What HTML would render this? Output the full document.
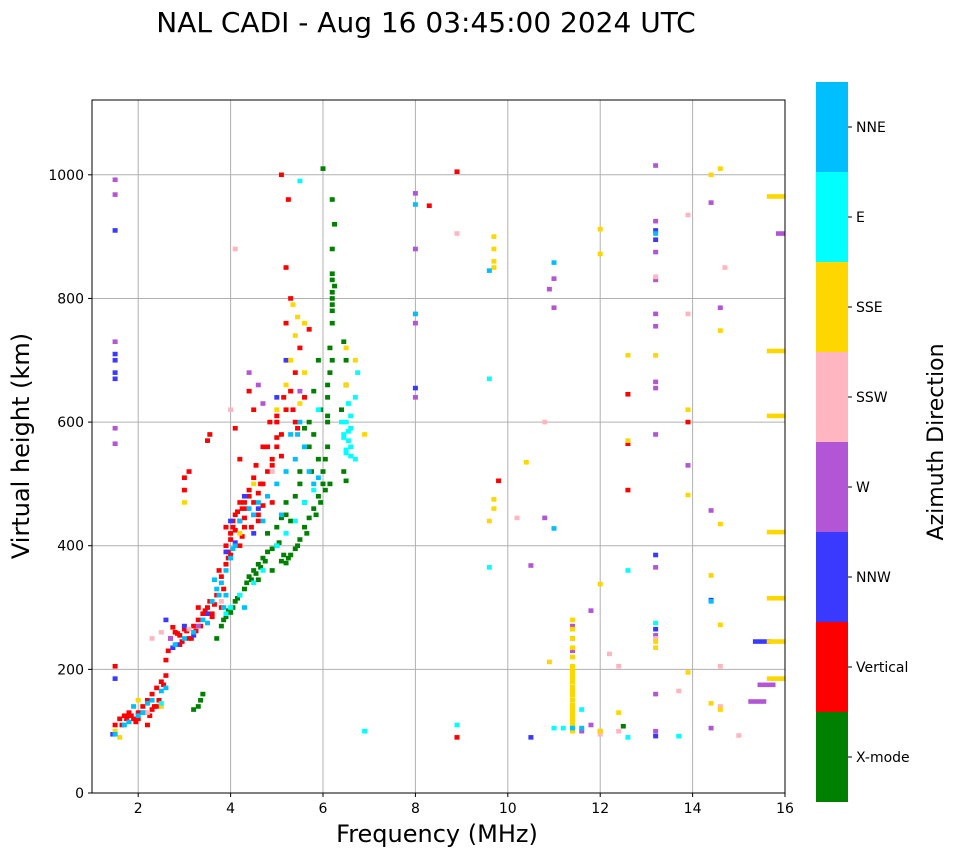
<!DOCTYPE html>
<html><head><meta charset="utf-8"><style>
html,body{margin:0;padding:0;background:#fff;}
svg{display:block;font-family:"DejaVu Sans","Liberation Sans",sans-serif;}
</style></head><body>
<svg id="chart" width="958" height="857" viewBox="0 0 958 857">
<defs><clipPath id="pc"><rect x="92" y="100" width="693" height="693"/></clipPath></defs>
<text x="426" y="32" font-size="28" text-anchor="middle">NAL CADI - Aug 16 03:45:00 2024 UTC</text>
<g id="grid"></g>
<g id="marks" clip-path="url(#pc)"></g>
<rect x="92" y="100" width="693" height="693" fill="none" stroke="#000" stroke-width="1"/>
<g id="axes"></g>
<text x="437" y="842" font-size="24" text-anchor="middle">Frequency (MHz)</text>
<text transform="translate(29,446) rotate(-90)" font-size="24" text-anchor="middle">Virtual height (km)</text>
<g id="cbar"></g>
<text transform="translate(943,442) rotate(-90)" font-size="22" text-anchor="middle">Azimuth Direction</text>
</svg>
<script>
const categories=["X-mode","Vertical","NNW","W","SSW","SSE","E","NNE"];
const colors=["#008000","#ff0000","#3a3aff","#b256d6","#ffb6c1","#ffd700","#00ffff","#00bfff"];
const xTicks=[2,4,6,8,10,12,14,16];
const yTicks=[0,200,400,600,800,1000];
const xmodeF=[3.2,3.3,3.35,3.4,3.7,3.8,3.9,3.95,4.05,4.1,4.2,4.3,4.35,4.4,4.5,4.6,4.7,4.8,4.9,5.0,5.1,5.2,5.3,5.4,5.5,5.6,5.7,5.8,5.9,6.0,6.0,6.05,6.1,6.1,6.1,6.15,6.15,6.2,6.2,6.2,6.2,6.25,6.2,6.0,5.9,5.8,5.7,5.6,5.5,5.4,5.2,5.0,4.8,6.4,6.5,6.5,6.45,6.45,6.5,5.9,5.8,6.2,6.25,6.15,4.6,4.9,5.3,5.6,5.75,6.1,12.5,3.85,4.0,4.15,4.45,4.55,4.65,4.75,5.05,5.15,5.25,5.45,5.65,5.85,5.95,6.05,6.2,6.2,6.2,6.2,6.1,5.95,5.7,5.6,5.5,5.2,5.1];
const xmodeH=[135,140,150,160,250,270,285,295,300,310,320,330,340,350,360,370,380,390,395,400,375,372,385,395,410,430,445,460,480,500,520,540,560,600,640,680,720,760,800,840,880,920,960,1010,700,650,600,560,520,480,450,430,420,620,660,700,730,520,505,540,580,780,820,500,345,360,440,470,520,610,108,280,292,315,345,355,365,375,405,385,380,400,420,450,470,490,790,810,830,700,660,620,560,590,500,470,445];
const vertF=[1.5,1.5,1.6,1.7,1.8,1.9,2.0,2.1,2.2,2.3,2.4,2.5,2.6,2.6,2.7,2.8,2.9,3.0,3.1,3.2,3.3,3.4,3.5,3.55,3.7,3.8,3.9,3.95,4.0,4.05,4.1,4.2,4.25,4.3,4.4,4.5,4.6,4.7,4.8,4.9,5.0,5.0,5.1,5.2,5.3,5.4,5.5,5.2,5.3,5.2,5.25,5.1,4.5,4.4,3.0,3.0,3.1,3.5,3.55,4.1,4.2,3.9,2.4,2.2,2.0,5.6,5.7,3.8,4.0,4.2,4.3,4.6,4.9,2.9,3.6,8.9,8.9,8.3,9.8,12.6,12.6,12.6,13.9,1.8,2.3,3.3,4.5,4.7,5.0,5.4,3.9,3.95,4.0,4.05,4.1,4.15,4.2,4.25,4.3,4.35,4.4,4.45,4.5,4.6,4.65,4.7,3.85,3.75,3.65,3.6,3.45,3.35,3.25,3.15,3.05,2.95,2.85,2.75,2.65,2.55,2.45,2.35,2.25,2.15,2.05,1.95,1.85,1.75,1.65,4.8,4.9,5.0,5.1,5.15,5.25,5.35,5.45,4.55,4.75,4.85];
const vertH=[205,110,120,125,130,120,130,140,150,160,170,180,190,215,250,260,240,265,250,270,280,290,300,310,320,350,370,390,410,430,450,440,460,430,480,470,450,500,520,540,560,600,580,620,650,680,720,760,800,850,960,1000,620,650,490,510,520,570,580,590,540,430,140,110,120,640,750,300,385,400,470,440,470,255,290,90,1005,950,505,645,565,490,600,125,135,300,510,560,610,600,400,380,420,440,425,455,470,415,445,460,490,430,450,485,500,465,330,360,305,285,295,270,262,250,262,245,258,268,230,175,150,140,125,130,130,115,125,120,110,560,530,575,545,640,700,620,590,530,560,600];
const nnwF=[1.5,1.5,1.5,1.5,1.5,1.5,1.45,2.6,3.0,3.5,4.0,4.3,4.5,5.0,5.2,3.2,4.6,8.0,13.2,13.2,13.2,13.2,13.2,14.4,15.5,10.5,2.75,2.85,3.9,4.1];
const nnwH=[700,710,680,670,910,185,95,280,270,290,440,480,420,640,700,255,460,655,910,895,265,385,92,312,245,90,235,240,390,405];
const wF=[1.5,1.5,1.5,1.5,1.5,8.0,8.0,8.0,8.0,10.9,11.0,11.0,10.8,10.5,11.4,11.6,11.8,11.8,12.0,13.2,13.2,13.2,13.2,13.2,13.2,13.2,13.2,13.2,13.2,13.2,13.2,13.2,13.9,14.4,14.4,14.6,14.4,15.6,15.4,16.0,4.4,4.6,5.5,11.4,11.4,11.4,2.7,3.3,4.7];
const wH=[992,968,730,590,565,880,970,760,640,815,832,785,445,368,105,100,110,295,100,1015,925,875,830,775,755,665,655,580,365,255,160,100,530,955,457,785,105,175,148,905,680,660,650,270,250,230,250,270,630];
const sswF=[2.3,2.5,4.1,4.0,8.9,10.8,10.2,12.2,12.4,12.4,13.2,13.2,13.7,13.9,13.9,14.7,14.6,14.6,15.0,12.0,3.1,3.8,4.9,2.2];
const sswH=[250,260,880,620,905,600,445,225,205,100,835,250,165,935,775,850,205,140,93,95,265,310,520,130];
const sseF=[1.6,1.5,2.0,2.5,3.0,4.2,4.5,5.0,5.2,5.3,5.4,5.5,5.6,6.5,6.5,6.7,6.9,9.7,9.7,9.7,9.7,9.7,9.7,9.6,10.4,10.9,11.4,11.4,11.4,11.4,11.4,11.4,11.4,11.4,11.4,11.4,11.4,11.4,11.4,12.0,12.0,12.0,12.4,12.0,12.6,12.6,13.2,13.2,13.2,13.9,13.9,13.9,14.4,14.4,14.4,14.6,14.6,14.6,14.6,14.6,15.8,15.8,15.8,15.8,15.8,15.8,15.8,8.0,5.45,5.35,5.6,11.4,11.4,11.4,11.4,11.4,11.4,11.4,11.4,11.4,11.4,11.4,11.4,11.4];
const sseH=[90,100,150,140,470,420,500,620,660,700,740,630,680,660,720,700,580,900,880,860,850,475,460,440,535,212,105,120,135,150,165,180,190,205,220,235,250,265,280,912,872,338,130,100,708,570,708,245,235,620,482,195,1000,352,145,1010,748,435,272,135,965,715,610,422,315,245,185,775,770,790,760,100,112,128,142,158,172,185,198,112,118,125,192,198];
const eF=[3.9,4.0,4.2,4.5,4.7,5.0,5.2,5.4,5.6,5.8,6.5,6.55,6.6,6.6,6.55,6.7,6.6,6.75,6.7,5.5,6.9,8.9,9.6,9.6,11.6,12.6,12.6,13.2,13.7,11.2,11.0,6.4,6.45,2.5,5.9,6.5,6.55,6.6,6.5,6.45];
const eH=[290,300,320,340,360,400,420,440,470,490,550,570,590,610,630,640,560,680,540,990,100,110,670,365,135,360,90,275,92,105,105,600,580,145,620,555,585,545,600,575];
const nneF=[1.5,1.7,1.9,2.1,2.3,2.5,2.6,2.8,3.0,3.2,3.4,3.6,3.7,3.8,3.9,4.0,4.1,4.2,4.4,4.6,4.8,5.0,5.2,5.4,5.6,5.8,5.9,5.3,5.5,5.1,4.3,8.0,8.0,9.6,11.0,11.0,11.4,11.6,13.2,14.4,3.9,3.5,4.7,3.85,3.75,3.65,4.05,4.5,2.2,2.0,1.8,5.7,5.45];
const nneH=[95,110,140,130,150,165,170,240,250,260,280,310,330,340,360,380,400,440,460,470,480,500,520,540,560,500,510,580,600,450,300,952,775,845,858,428,105,105,905,310,320,275,440,300,320,345,395,450,145,125,115,520,580];
const seriesF=[xmodeF,vertF,nnwF,wF,sswF,sseF,eF,nneF];
const seriesH=[xmodeH,vertH,nnwH,wH,sswH,sseH,eH,nneH];

const NS="http://www.w3.org/2000/svg";
const X0=92,X1=785,Y0=793,Y1=100;
function xS(f){return X0+(f-1)/(16-1)*(X1-X0);}
function yS(h){return Y0-h/1121*(Y0-Y1);}
function mk(tag,attrs,parent){const e=document.createElementNS(NS,tag);for(const k in attrs)e.setAttribute(k,attrs[k]);parent.appendChild(e);return e;}
const grid=document.getElementById('grid'),axes=document.getElementById('axes'),marks=document.getElementById('marks'),cbar=document.getElementById('cbar');
xTicks.forEach(t=>{
  const x=xS(t);
  const g=mk('line',{x1:x,x2:x,y1:Y1,y2:Y0,stroke:'#b0b0b0','stroke-width':1},grid);
  
  
  mk('line',{x1:x,x2:x,y1:Y0,y2:Y0+4,stroke:'#000'},axes);
  const tx=mk('text',{x:x,y:Y0+20,'font-size':14,'text-anchor':'middle'},axes);
  tx.textContent=t;
  
  
});
yTicks.forEach(t=>{
  const y=yS(t);
  const g=mk('line',{x1:X0,x2:X1,y1:y,y2:y,stroke:'#b0b0b0','stroke-width':1},grid);
  
  
  mk('line',{x1:X0-4,x2:X0,y1:y,y2:y,stroke:'#000'},axes);
  const tx=mk('text',{x:X0-8,y:y+5,'font-size':14,'text-anchor':'end'},axes);
  tx.textContent=t;
  
  
});
seriesF.forEach((fs,ci)=>{
  fs.forEach((f,i)=>{
    const h=seriesH[ci][i];
    let w=5;
    if(f>=15.4) w=18;
    const r=mk('rect',{x:xS(f)-w/2,y:yS(h)-2.3,width:w,height:4.6,fill:colors[ci]},marks);
    
    
  });
});
const CB0=82,CBH=90;
categories.forEach((c,i)=>{
  const y=CB0+(7-i)*CBH;
  const r=mk('rect',{x:816,y:y,width:32,height:CBH,fill:colors[i]},cbar);
  
  
  mk('line',{x1:848,x2:852,y1:y+CBH/2,y2:y+CBH/2,stroke:'#000'},cbar);
  const t=mk('text',{x:856,y:y+CBH/2+5,'font-size':14},cbar);
  t.textContent=c;
  
  
});
</script>
</body></html>
